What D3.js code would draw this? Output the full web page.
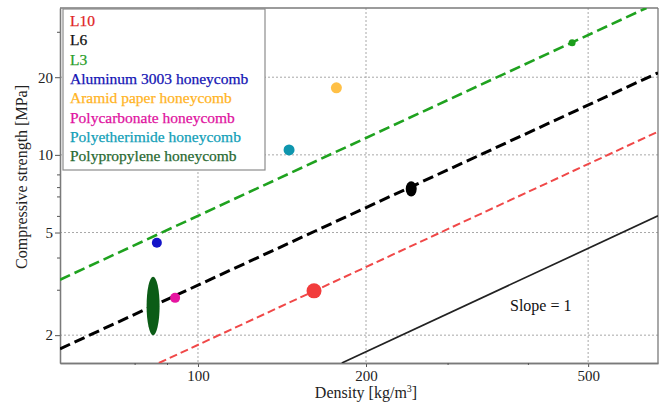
<!DOCTYPE html>
<html>
<head>
<meta charset="utf-8">
<script src="https://cdn.jsdelivr.net/npm/d3@7"></script>
<style>
  body { margin: 0; background: #fff; }
  svg text { font-family: "Liberation Serif", "Times New Roman", serif; }
</style>
</head>
<body>
<svg id="chart" width="667" height="403"></svg>
<script>
// Daten (aus dem Bild geschaetzt)
var xMajorTicks = [100, 200, 500];
var xMinorTicks = [77, 88, 280, 390];
var yMajorTicks = [2, 5, 10, 20];
var yMinorTicks = [3, 4, 5.8, 6.9, 7.5, 8.4, 30];

// Linien: Endpunkte [Dichte, Festigkeit]
var lineNames = ['L3', 'L6', 'L10', 'Slope = 1'];
var lineDensity = [[56.6, 636], [56.6, 667], [85.1, 667], [181, 667]];
var lineStrength = [[3.28, 37.1], [1.77, 20.8], [1.56, 12.3], [1.56, 5.8]];

// Punkte: Dichte, Festigkeit (min, max)
var pointNames = ['Aluminum 3003 honeycomb', 'Aramid paper honeycomb', 'Polycarbonate honeycomb',
  'Polyetherimide honeycomb', 'Polypropylene honeycomb', 'L10', 'L6', 'L3'];
var pointDensity = [84.4, 177, 91.0, 145.6, 83.1, 161.4, 241, 468];
var pointStrengthLow = [4.56, 18.2, 2.79, 10.45, 2.0, 2.97, 6.9, 27.2];
var pointStrengthHigh = [4.56, 18.2, 2.79, 10.45, 3.37, 2.97, 7.9, 27.2];

var legendLabels = ['L10', 'L6', 'L3', 'Aluminum 3003 honeycomb', 'Aramid paper honeycomb',
  'Polycarbonate honeycomb', 'Polyetherimide honeycomb', 'Polypropylene honeycomb'];

var svg = d3.select('#chart');
var pLeft = 60, pRight = 658, pTop = 8, pBottom = 363;

var x = d3.scaleLog().domain([56.6, 667]).range([pLeft, pRight]);
var y = d3.scaleLog().domain([1.56, 37.1]).range([pBottom, pTop]);

svg.append('clipPath').attr('id', 'plotclip')
    .append('rect')
    .attr('x', pLeft).attr('y', pTop)
    .attr('width', pRight - pLeft).attr('height', pBottom - pTop);

// Gitter
svg.append('g').selectAll('line').data(xMajorTicks).enter().append('line')
    .attr('x1', d => x(d)).attr('x2', d => x(d))
    .attr('y1', pTop).attr('y2', pBottom)
    .style('stroke', '#a8a8a8').style('stroke-dasharray', '2,2').style('stroke-width', 1);
svg.append('g').selectAll('line').data(yMajorTicks).enter().append('line')
    .attr('x1', pLeft).attr('x2', pRight)
    .attr('y1', d => y(d)).attr('y2', d => y(d))
    .style('stroke', '#a8a8a8').style('stroke-dasharray', '2,2').style('stroke-width', 1);

// Achsen
var xAxis = svg.append('g').attr('transform', 'translate(0,' + pBottom + ')')
    .call(d3.axisBottom(x).tickValues(xMajorTicks).tickFormat(d3.format('d')).tickSize(4).tickSizeOuter(0));
svg.append('g').attr('transform', 'translate(0,' + pBottom + ')')
    .call(d3.axisBottom(x).tickValues(xMinorTicks).tickFormat('').tickSize(2).tickSizeOuter(0));
var yAxis = svg.append('g').attr('transform', 'translate(' + pLeft + ',0)')
    .call(d3.axisLeft(y).tickValues(yMajorTicks).tickFormat(d3.format('d')).tickSize(5).tickSizeOuter(0));
svg.append('g').attr('transform', 'translate(' + pLeft + ',0)')
    .call(d3.axisLeft(y).tickValues(yMinorTicks).tickFormat('').tickSize(3).tickSizeOuter(0));

svg.selectAll('.domain').style('stroke', '#7a7a7a').style('stroke-width', 1.3);
svg.selectAll('.tick line').style('stroke', '#555');
xAxis.selectAll('text').style('font-size', '15px').style('fill', '#222')
    .style('font-family', '"Liberation Serif", serif');
yAxis.selectAll('text').style('font-size', '15px').style('fill', '#222').attr('x', -7)
    .style('font-family', '"Liberation Serif", serif');

// Rahmen oben/rechts
svg.append('line').attr('x1', pLeft).attr('x2', pRight).attr('y1', pTop).attr('y2', pTop)
    .style('stroke', '#7a7a7a').style('stroke-width', 1.3);
svg.append('line').attr('x1', pRight).attr('x2', pRight).attr('y1', pTop).attr('y2', pBottom)
    .style('stroke', '#7a7a7a').style('stroke-width', 1.3);

// Achsentitel
svg.append('text')
    .attr('x', 366).attr('y', 398)
    .attr('text-anchor', 'middle')
    .style('font-size', '16px').style('fill', '#222')
    .html('Density [kg/m<tspan dy="-6" font-size="10px">3</tspan><tspan dy="6">]</tspan>');
svg.append('text')
    .attr('transform', 'translate(27,177) rotate(-90)')
    .attr('text-anchor', 'middle')
    .style('font-size', '16px').style('fill', '#222')
    .text('Compressive strength [MPa]');

// Linien
var lineColors = ['#1fa21f', '#000000', '#f04848', '#222222'];
var lineWidths = [2.6, 3, 2, 1.7];
var lineDashes = ['11,5', '11,5', '8,4', null];
var lineGen = d3.line().x(d => x(d[0])).y(d => y(d[1]));
var plotG = svg.append('g').attr('clip-path', 'url(#plotclip)');
lineNames.forEach(function (name, i) {
    var pts = lineDensity[i].map((d, j) => [d, lineStrength[i][j]]);
    plotG.append('path')
        .datum(pts)
        .attr('d', lineGen)
        .style('fill', 'none')
        .style('stroke', lineColors[i])
        .style('stroke-width', lineWidths[i])
        .style('stroke-dasharray', lineDashes[i]);
});

svg.append('text')
    .attr('x', 510).attr('y', 311)
    .style('font-size', '16px').style('fill', '#111')
    .text('Slope = 1');

// Punkte
var pointColors = ['#1414c8', '#ffc046', '#e614a0', '#0e96ae', '#0b5c16', '#f23c3c', '#000000', '#1c9e1c'];
var pointRx = [5, 5.5, 5, 5.5, 6.5, 7.5, 5.5, 3.5];
pointNames.forEach(function (name, i) {
    var cy = Math.sqrt(pointStrengthLow[i] * pointStrengthHigh[i]);
    var ry = Math.max(pointRx[i], (y(pointStrengthLow[i]) - y(pointStrengthHigh[i])) / 2);
    plotG.append('ellipse')
        .attr('cx', x(pointDensity[i]))
        .attr('cy', y(cy))
        .attr('rx', pointRx[i])
        .attr('ry', ry)
        .style('fill', pointColors[i]);
});

// Legende
var legendColors = ['#e02424', '#111111', '#2a9e2a', '#1414b4', '#ffb424', '#e012a0', '#12a0b8', '#2a6a32'];
var legend = svg.append('g');
legend.append('rect')
    .attr('x', 63).attr('y', 9).attr('width', 202).attr('height', 161)
    .style('fill', '#fff').style('stroke', '#8c8c8c').style('stroke-width', 1.2);
legend.selectAll('text').data(legendLabels).enter().append('text')
    .attr('x', 70)
    .attr('y', (d, i) => 26 + i * 19.3)
    .style('font-size', '15.5px')
    .style('fill', (d, i) => legendColors[i])
    .style('stroke', (d, i) => legendColors[i])
    .style('stroke-width', 0.25)
    .text(d => d);
</script>
</body>
</html>
